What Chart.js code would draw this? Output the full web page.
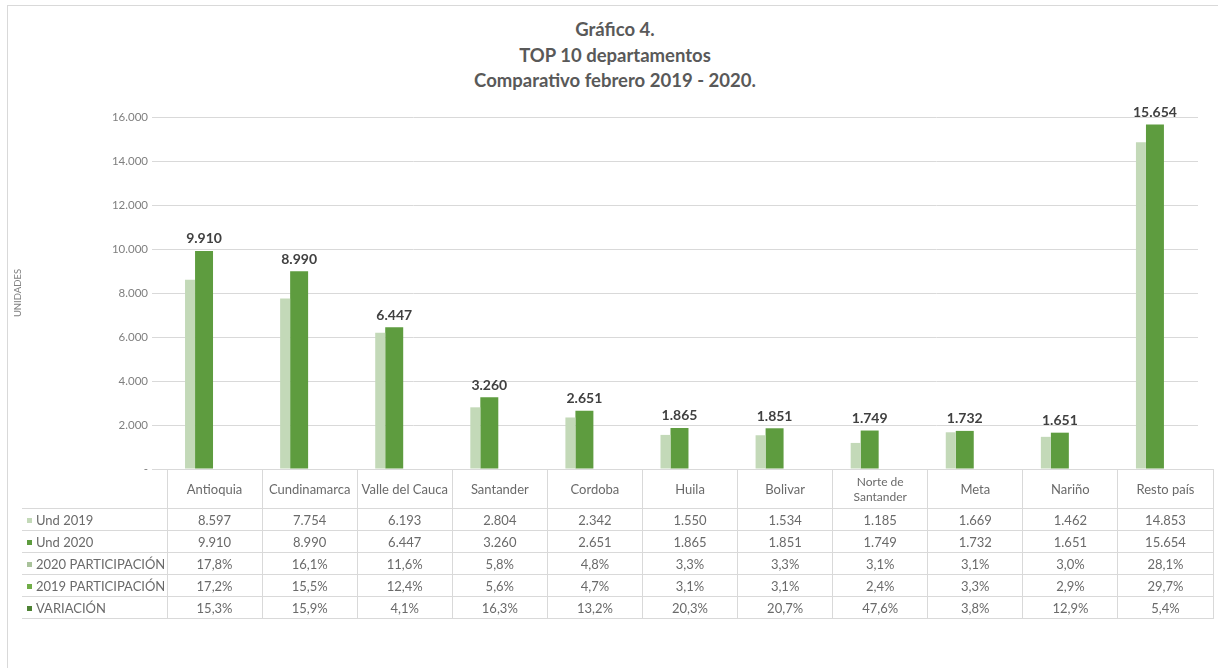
<!DOCTYPE html>
<html lang="es">
<head>
<meta charset="utf-8">
<script src="https://cdn.jsdelivr.net/npm/chart.js@4.4.0/dist/chart.umd.min.js"></script>
<style>
  html, body { margin: 0; padding: 0; background: #fff; }
  #wrap { position: relative; width: 1218px; height: 668px; overflow: hidden; font-family: Lato, "Open Sans", sans-serif; }
  #frame { position: absolute; left: 7px; top: 5px; width: 1300px; height: 700px; border-left: 1px solid #d9d9d9; border-top: 1px solid #d9d9d9; }
  #title { position: absolute; left: 0; top: 17px; width: 1230px; text-align: center; color: #595959; font-size: 18.5px; font-weight: 700; line-height: 25.5px; }
  canvas { position: absolute; left: 0; top: 0; }
  table { position: absolute; left: 22px; top: 469px; border-collapse: collapse; table-layout: fixed; font-size: 13px; color: #6a6a6a; }
  td { padding: 0; text-align: center; border: 1px solid #d9d9d9; white-space: nowrap; }
  tr.hdr td { height: 38px; line-height: 15px; }
  tr.hdr td.corner { border-top: none; border-left: none; }
  tr.hdr td.two { font-size: 12px; }
  tr.row td { height: 21px; }
  td.lab { text-align: left; padding-left: 5px; border-left: none; }
  .mk { display: inline-block; width: 5px; height: 5px; margin-right: 4px; vertical-align: 2px; }
</style>
</head>
<body>
<div id="wrap">
  <div id="frame"></div>
  <div id="title">Gráfico 4.<br>TOP 10 departamentos<br>Comparativo febrero 2019 - 2020.</div>
  <canvas id="chart" width="1218" height="668"></canvas>
  <table id="dataTable"></table>
</div>
<script>
const categories = ["Antioquia", "Cundinamarca", "Valle del Cauca", "Santander", "Cordoba", "Huila", "Bolivar", ["Norte de", "Santander"], "Meta", "Nariño", "Resto país"];
const und2019 = [8597, 7754, 6193, 2804, 2342, 1550, 1534, 1185, 1669, 1462, 14853];
const und2020 = [9910, 8990, 6447, 3260, 2651, 1865, 1851, 1749, 1732, 1651, 15654];
const part2020 = [17.8, 16.1, 11.6, 5.8, 4.8, 3.3, 3.3, 3.1, 3.1, 3.0, 28.1];
const part2019 = [17.2, 15.5, 12.4, 5.6, 4.7, 3.1, 3.1, 2.4, 3.3, 2.9, 29.7];
const variacion = [15.3, 15.9, 4.1, 16.3, 13.2, 20.3, 20.7, 47.6, 3.8, 12.9, 5.4];
const yTicks = [0, 2000, 4000, 6000, 8000, 10000, 12000, 14000, 16000];

const lightGreen = "#c3d9b8";
const darkGreen = "#5e9c3f";

function fmtInt(n) {
    return String(n).replace(/\B(?=(\d{3})+(?!\d))/g, ".");
}
function fmtPct(n) {
    return n.toFixed(1).replace(".", ",") + "%";
}

// data table under the chart
const rows = [
    { name: "Und 2019", color: lightGreen, values: und2019.map(fmtInt) },
    { name: "Und 2020", color: darkGreen, values: und2020.map(fmtInt) },
    { name: "2020 PARTICIPACIÓN", color: "#a9c29b", values: part2020.map(fmtPct) },
    { name: "2019 PARTICIPACIÓN", color: "#70ad47", values: part2019.map(fmtPct) },
    { name: "VARIACIÓN", color: "#4e8234", values: variacion.map(fmtPct) }
];
let html = '<colgroup><col style="width:145px">' + categories.map(() => '<col style="width:95.1px">').join("") + '</colgroup>';
html += '<tr class="hdr"><td class="corner"></td>' +
    categories.map(c => Array.isArray(c) ? `<td class="two">${c.join("<br>")}</td>` : `<td>${c}</td>`).join("") + '</tr>';
for (let r of rows) {
    html += `<tr class="row"><td class="lab"><span class="mk" style="background:${r.color}"></span>${r.name}</td>` +
        r.values.map(v => `<td>${v}</td>`).join("") + '</tr>';
}
document.getElementById("dataTable").innerHTML = html;

const barLabels = {
    id: "barLabels",
    afterDatasetsDraw(chart) {
        const ctx = chart.ctx;
        const meta = chart.getDatasetMeta(1);
        ctx.save();
        ctx.font = "bold 14px Lato";
        ctx.fillStyle = "#404040";
        ctx.textAlign = "center";
        ctx.textBaseline = "bottom";
        meta.data.forEach((bar, i) => {
            ctx.fillText(fmtInt(und2020[i]), bar.x, bar.y - 5);
        });
        ctx.restore();
    }
};

new Chart(document.getElementById("chart").getContext("2d"), {
    type: "bar",
    data: {
        labels: categories,
        datasets: [
            // 2019 bar peeks out from behind the 2020 bar
            { label: "Und 2019", data: und2019, backgroundColor: lightGreen, categoryPercentage: 0.4, barPercentage: 0.526 },
            { label: "Und 2020", data: und2020, backgroundColor: darkGreen, categoryPercentage: 0.189, barPercentage: 2 }
        ]
    },
    options: {
        responsive: false,
        animation: false,
        layout: { padding: { top: 117, bottom: 199, left: 0, right: 20 } },
        plugins: { legend: { display: false }, tooltip: { enabled: false } },
        scales: {
            x: { display: false },
            y: {
                min: 0, max: 16000,
                afterBuildTicks: s => { s.ticks = yTicks.map(v => ({ value: v })); },
                afterFit: s => { s.width = 152; },
                grid: { color: "#d9d9d9", drawTicks: false },
                border: { display: false },
                ticks: {
                    padding: 4,
                    color: "#7f7f7f",
                    font: { family: "Lato", size: 11.5 },
                    callback: v => v === 0 ? "-" : fmtInt(v)
                },
                title: { display: true, text: "UNIDADES", color: "#7f7f7f", font: { family: "Lato", size: 9.5 }, padding: { top: 12 } }
            }
        }
    },
    plugins: [barLabels]
});
</script>
</body>
</html>
